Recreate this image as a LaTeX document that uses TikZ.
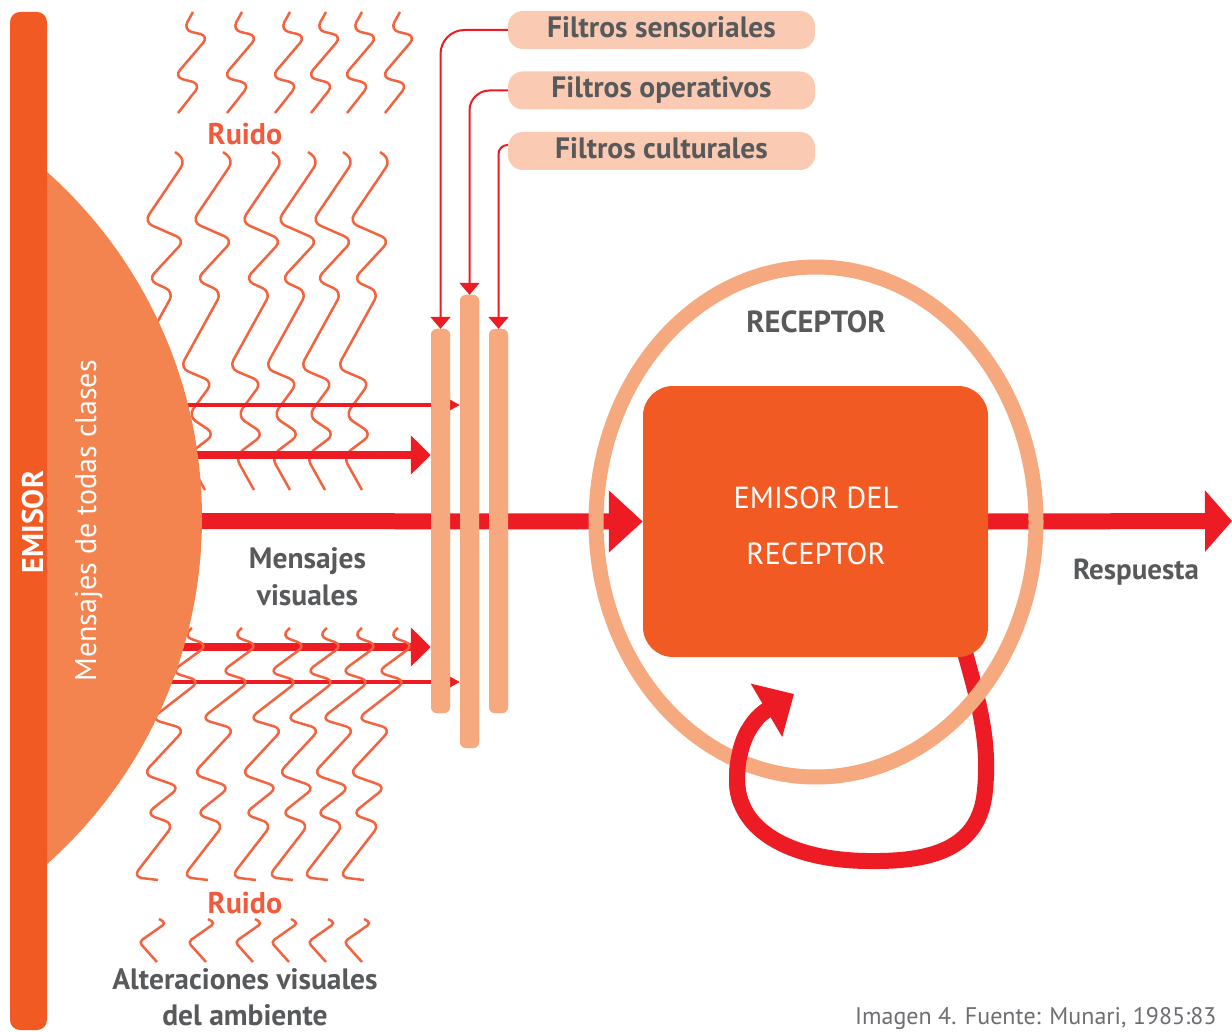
\documentclass[tikz,border=0pt]{standalone}
\usepackage{fontspec}
\setmainfont{PT Sans}
\usetikzlibrary{arrows.meta,shapes.geometric}
\definecolor{barc}{HTML}{F15A22}
\definecolor{diskc}{HTML}{F4844F}
\definecolor{wavec}{HTML}{F26440}
\definecolor{redc}{HTML}{ED1C24}
\definecolor{filtc}{HTML}{F6A87E}
\definecolor{labc}{HTML}{FBCAB2}
\definecolor{grayc}{HTML}{58595B}
\definecolor{ruidoc}{HTML}{F15A3C}
\definecolor{capc}{HTML}{6D6E71}
\tikzset{
  wave/.style={draw=wavec, line width=2.5pt, rounded corners=9pt},
  topwave/.pic={\draw[wave] (0,0) -- (-10,18) -- (16,24) -- (-19,65) -- (8,72) -- (-15,101);},
  midwave/.pic={\draw[wave] (0,0) -- (11,8) -- (-31,70) -- (10,88) -- (-27,128) -- (-1,140) -- (-43,216) -- (-10,230) -- (-35,264) -- (-8,282) -- (-37,304) -- (-18,338);},
  lowwave/.pic={\draw[wave] (0,0) -- (-9,8) -- (16,17) -- (-21,44) -- (8,53) -- (-41,91) -- (-7,101) -- (-49,146) -- (-12,159) -- (-46,186) -- (-18,196) -- (-59,249) -- (-34,252);},
  tinywave/.pic={\draw[wave, rounded corners=4pt] (-4,-1) -- (3,3) -- (-24,22) -- (-6,42);},
  filt/.style={fill=filtc, rounded corners=6pt, minimum width=19pt, inner sep=0pt},
  labbox/.style={fill=labc, rounded corners=15pt, minimum width=307pt, minimum height=38pt, inner sep=0pt,
    text=grayc, font=\fontsize{29.5}{32}\selectfont\bfseries, text height=21pt, text depth=6pt},
  conn/.style={draw=redc, line width=2pt, -{Triangle[length=12pt,width=20pt]}},
  grayt/.style={text=grayc, font=\fontsize{29.5}{32}\selectfont\bfseries, inner sep=0pt, anchor=base},
  ruidot/.style={text=ruidoc, font=\fontsize{30}{32}\selectfont\bfseries, inner sep=0pt, anchor=base},
  whitet/.style={text=white, inner sep=0pt, anchor=base, font=\fontsize{30.5}{32}\selectfont},
}
\begin{document}
\begin{tikzpicture}[x=1pt,y=-1pt]
\useasboundingbox (0,0) rectangle (1232,1032);
\fill[white] (0,0) rectangle (1232,1032);

% noise waves
\foreach \xx in {193,242,290,326,362,400} \pic at (\xx,12) {topwave};
\foreach \xx in {175,223,272,308,343,380} \pic at (\xx,152) {midwave};

% coordinates for arrow starts
\coordinate (a1) at (150,405);
\coordinate (a2) at (150,455);
\coordinate (a3) at (150,521);
\coordinate (a4) at (150,647);
\coordinate (a5) at (150,682);
\coordinate (resp) at (1232,521);

% filters (nodes)
\node[filt, minimum height=384pt] (f1) at (440.5,521) {};
\node[filt, minimum height=453pt] (f2) at (469.5,521.5) {};
\node[filt, minimum height=384pt] (f3) at (498.5,521) {};

% upper arrows
\draw[redc, line width=4pt, -{Triangle[length=28pt,width=30pt]}] (a1) -- (a1 -| f2.west);
\draw[redc, line width=8pt, -{Triangle[length=20pt,width=38pt]}] (a2) -- (a2 -| f1.west);
% lower arrows
\draw[redc, line width=8pt, -{Triangle[length=20pt,width=38pt]}] (a4) -- (a4 -| f1.west);
\draw[redc, line width=4pt, -{Triangle[length=28pt,width=30pt]}] (a5) -- (a5 -| f2.west);

\foreach \xx in {192,242,290,327,362,398} \pic at (\xx,628) {lowwave};
\foreach \xx in {163,212,259,295,332,368} \pic at (\xx,920) {tinywave};

% receptor box node (anchors)
\path (815.5,521.5) node[minimum width=345pt, minimum height=271pt, inner sep=0pt] (erec) {};
% main arrow
\draw[redc, line width=16pt, -{Triangle[length=34pt,width=60pt]}] (a3) -- (erec.west);
\draw[redc, line width=16pt, -{Triangle[length=27pt,width=60pt]}] (erec.east) -- (resp);

% disk
\begin{scope}
\clip (40,0) rectangle (400,1032);
\fill[diskc] (-262,518) circle[radius=464pt];
\end{scope}
% emisor bar
\node[fill=barc, rounded corners=10pt, minimum width=37pt, minimum height=1018pt, inner sep=0pt] (bar) at (28.5,521) {};
\node[rotate=90, anchor=base, text=white, inner sep=0pt, font=\fontsize{30}{32}\selectfont\bfseries] (emisor) at (43,522) {EMISOR};
\node[rotate=90, anchor=base, text=white, inner sep=0pt, font=\fontsize{30}{32}\selectfont] (mtc) at (96,521) {Mensajes de todas clases};

% filters on top
\node[filt, minimum height=384pt] at (f1) {};
\node[filt, minimum height=453pt] at (f2) {};
\node[filt, minimum height=384pt] at (f3) {};

% labels
\node[labbox] (l1) at (661.5,30) {Filtros sensoriales};
\node[labbox] (l2) at (661.5,90.5) {Filtros operativos};
\node[labbox] (l3) at (661.5,151) {Filtros culturales};
\draw[conn, rounded corners=24pt] (l1.west) -| (f1.north);
\draw[conn, rounded corners=20pt] (l2.west) -| (f2.north);
\draw[conn, rounded corners=9pt] ([yshift=6pt]l3.west) -| (f3.north);

% feedback loop
\coordinate (lps) at ([xshift=-23pt,yshift=4pt]erec.south east);
\coordinate (lpe) at (794,694);
\def\looppath{(lps) .. controls (978,700) and (990,740) .. (985,790) .. controls (980,850) and (930,862) .. (867,861) .. controls (790,860) and (737,830) .. (737,780) .. controls (737,745) and (750,720) .. (lpe)}
\draw[redc, line width=16pt, -{Triangle[length=32pt,width=60pt]}] \looppath;

% receptor ellipse
\node[draw=filtc, line width=15pt, ellipse, minimum width=440pt, minimum height=510pt, inner sep=0pt] (rec) at (816,522) {};
\begin{scope}
\clip (700,725) rectangle (772,805);
\draw[redc, line width=16pt, -{Triangle[length=32pt,width=60pt]}] \looppath;
\end{scope}

% box
\node[fill=barc, rounded corners=30pt, minimum width=345pt, minimum height=271pt, inner sep=0pt] at (erec) {};
\node[whitet] (t1) at (816,508) {EMISOR DEL};
\node[whitet] (t2) at (816,564) {RECEPTOR};

% texts
\node[grayt, font=\fontsize{30.5}{32}\selectfont\bfseries] (rect) at (816,333) {RECEPTOR};
\node[grayt] (mv1) at (307.5,568) {Mensajes};
\node[grayt] (mv2) at (307.5,605) {visuales};
\node[grayt, font=\fontsize{29}{32}\selectfont\bfseries] (respt) at (1136,579) {Respuesta};
\node[ruidot] (r1) at (245,145) {Ruido};
\node[ruidot] (r2) at (245,913) {Ruido};
\node[grayt] (alt1) at (245,989) {Alteraciones visuales};
\node[grayt] (alt2) at (245,1025) {del ambiente};
\node[text=capc, inner sep=0pt, anchor=base west, font=\fontsize{24}{28}\selectfont] (cap) at (855,1024) {Imagen 4. Fuente: Munari, 1985:83};
\end{tikzpicture}
\end{document}
